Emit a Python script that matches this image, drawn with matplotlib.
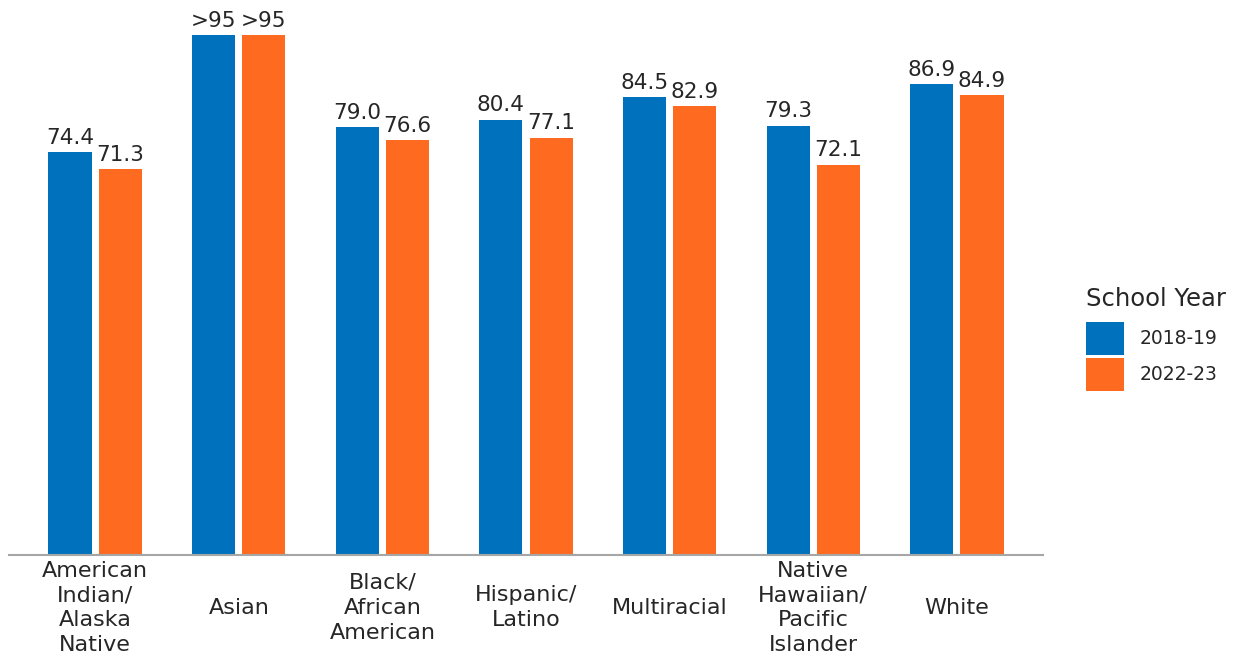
import matplotlib
matplotlib.use("Agg")
import matplotlib.pyplot as plt
import numpy as np

plt.rcParams['font.family'] = ['DejaVu Sans']

categories = ["American\nIndian/\nAlaska\nNative", "Asian", "Black/\nAfrican\nAmerican",
              "Hispanic/\nLatino", "Multiracial", "Native\nHawaiian/\nPacific\nIslander", "White"]
series_names = ["2018-19", "2022-23"]
legend_title = "School Year"
values_2018 = [74.4, 96.0, 79.0, 80.4, 84.5, 79.3, 86.9]
values_2022 = [71.3, 96.0, 76.6, 77.1, 82.9, 72.1, 84.9]
labels_2018 = ["74.4", ">95", "79.0", "80.4", "84.5", "79.3", "86.9"]
labels_2022 = ["71.3", ">95", "76.6", "77.1", "82.9", "72.1", "84.9"]

blue = "#0072BD"
orange = "#FF6A21"
text_color = "#262626"

fig = plt.figure(figsize=(12.37, 6.56), dpi=100)
ax = fig.add_axes([9 / 1237, 101 / 656, (1043 - 9) / 1237, 555 / 656])

x = np.arange(len(categories))
w = 0.30
off = 0.175
b1 = ax.bar(x - off, values_2018, w, color=blue, label=series_names[0])
b2 = ax.bar(x + off, values_2022, w, color=orange, label=series_names[1])
ax.bar_label(b1, labels=labels_2018, padding=3, fontsize=15.5, color=text_color)
ax.bar_label(b2, labels=labels_2022, padding=3, fontsize=15.5, color=text_color)

ax.set_xlim(-0.6, 6.6)
ax.set_ylim(0, 102.5)
ax.set_yticks([])
ax.set_xticks(x)
ax.set_xticklabels(categories, fontsize=16, color=text_color, linespacing=1.3)
for t in ax.get_xticklabels():
    t.set_verticalalignment('center')
ax.tick_params(axis='x', length=0, pad=38)
for s in ["top", "right", "left"]:
    ax.spines[s].set_visible(False)
ax.spines["bottom"].set_color("#A6A6A6")
ax.spines["bottom"].set_linewidth(1.5)

# legend: title placed separately so the swatches sit a little lower
fig.text(1086 / 1237, 1 - 299 / 656, legend_title, fontsize=17.5, color=text_color,
         ha="left", va="center")
leg = fig.legend(handles=[b1, b2], labels=series_names,
                 loc="upper left", bbox_to_anchor=(1086 / 1237, 1 - 322 / 656),
                 frameon=False, fontsize=13.5,
                 handlelength=2.0, handleheight=2.33, handletextpad=0.85,
                 labelspacing=0.16, borderpad=0, borderaxespad=0)
for t in leg.get_texts():
    t.set_color(text_color)

fig.savefig("out.png", dpi=100)
